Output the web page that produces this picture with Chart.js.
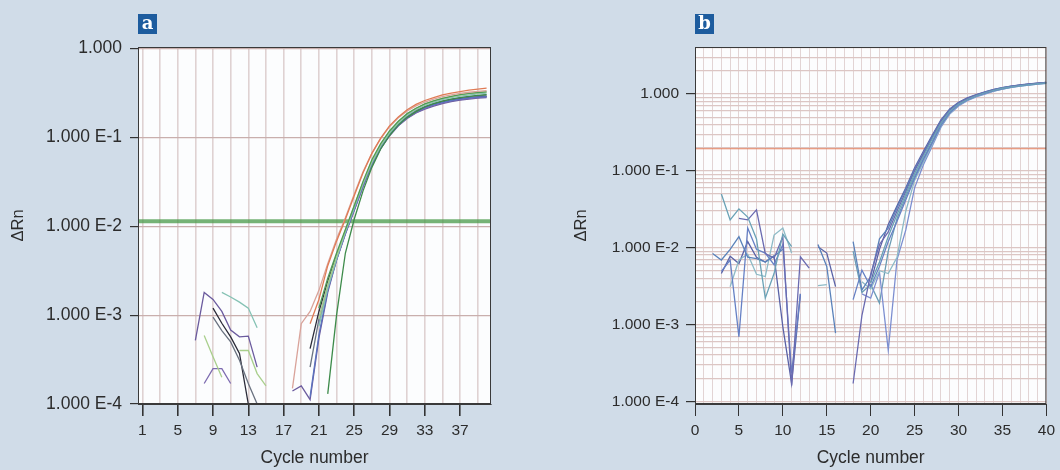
<!DOCTYPE html>
<html>
<head>
<meta charset="utf-8">
<script src="https://cdn.jsdelivr.net/npm/chart.js@4.4.1/dist/chart.umd.min.js"></script>
<style>
  html, body { margin: 0; padding: 0; background: #d0dce8; }
  body { width: 1060px; height: 470px; position: relative; overflow: hidden; }
  .panel { position: absolute; top: 0; width: 530px; height: 470px; }
  .tag {
    position: absolute; top: 14px; width: 19px; height: 20px;
    background: #1d5c9e; color: #fff; text-align: center;
    font: bold 18px "DejaVu Serif", serif; line-height: 18px;
  }
</style>
</head>
<body>
<div class="panel" style="left:0"><canvas id="chart-a" width="530" height="470"></canvas></div>
<div class="panel" style="left:530px"><canvas id="chart-b" width="530" height="470"></canvas></div>
<div class="tag" style="left:138px">a</div>
<div class="tag" style="left:695px">b</div>

<script>
// Two qPCR amplification plots (ΔRn vs cycle, log scale).
const _ = null;

const cycles = [1, 2, 3, 4, 5, 6, 7, 8, 9, 10, 11, 12, 13, 14, 15, 16, 17, 18, 19, 20,
  21, 22, 23, 24, 25, 26, 27, 28, 29, 30, 31, 32, 33, 34, 35, 36, 37, 38, 39, 40];

// ---- panel a ----
const xRangeA = [0.5, 40.5];
const yRangeA = [0.0001, 1.04];
const xTicksA = [1, 5, 9, 13, 17, 21, 25, 29, 33, 37];
const xGridA = [1, 3, 5, 7, 9, 11, 13, 15, 17, 19, 21, 23, 25, 27, 29, 31, 33, 35, 37, 39];
const yTicksA = [1, 0.1, 0.01, 0.001, 0.0001];
const yLabelsA = ["1.000", "1.000 E-1", "1.000 E-2", "1.000 E-3", "1.000 E-4"];
const thresholdA = 0.0114;

const aOrange = [_, _, _, _, _, _, _, _, _, _,
  _, _, _, _, _, _, _, _, _, 0.0008,
  0.0015, 0.0036, 0.0068, 0.012, 0.022, 0.04, 0.066, 0.098, 0.135, 0.17,
  0.205, 0.235, 0.26, 0.28, 0.3, 0.315, 0.328, 0.34, 0.35, 0.358];
const aPink = [_, _, _, _, _, _, _, _, _, _,
  _, _, _, _, _, _, _, 0.00015, 0.0008, 0.0011,
  0.0019, 0.0038, 0.0072, 0.0125, 0.023, 0.041, 0.066, 0.097, 0.132, 0.166,
  0.198, 0.226, 0.25, 0.27, 0.287, 0.3, 0.312, 0.322, 0.33, 0.336];
const aBlack = [_, _, _, _, _, _, _, _, 0.0012, 0.00081,
  0.00057, 0.00037, 0.0001, _, _, _, _, _, _, 0.00042,
  0.0011, 0.0024, 0.0047, 0.0088, 0.016, 0.03, 0.052, 0.078, 0.108, 0.14,
  0.17, 0.196, 0.218, 0.236, 0.25, 0.262, 0.272, 0.28, 0.286, 0.29];
const aPurple = [_, _, _, _, _, _, 0.00052, 0.0018, 0.0015, 0.0011,
  0.00068, 0.00057, 0.00058, 0.00026, _, _, _, 0.00014, 0.00016, 0.000112,
  0.00055, 0.0018, 0.0042, 0.0082, 0.015, 0.028, 0.05, 0.075, 0.104, 0.135,
  0.163, 0.188, 0.208, 0.225, 0.24, 0.252, 0.262, 0.27, 0.276, 0.28];
const aGray = [_, _, _, _, _, _, _, _, 0.00095, 0.00067,
  0.0005, 0.00031, 0.00017, 0.0001, _, _, _, _, _, 0.00026,
  0.0009, 0.0021, 0.0044, 0.0085, 0.0155, 0.029, 0.05, 0.077, 0.108, 0.14,
  0.172, 0.2, 0.222, 0.242, 0.257, 0.27, 0.28, 0.288, 0.295, 0.3];
const aGreen = [_, _, _, _, _, _, _, _, _, _,
  _, _, _, _, _, _, _, _, _, _,
  0.0012, 0.0026, 0.005, 0.0092, 0.017, 0.032, 0.056, 0.085, 0.118, 0.152,
  0.185, 0.213, 0.238, 0.258, 0.275, 0.29, 0.302, 0.312, 0.32, 0.326];
const aGreenLate = [_, _, _, _, _, _, _, _, _, _,
  _, _, _, _, _, _, _, _, _, _,
  _, 0.00013, 0.001, 0.005, 0.012, 0.025, 0.046, 0.074, 0.105, 0.138,
  0.168, 0.195, 0.22, 0.24, 0.256, 0.27, 0.28, 0.29, 0.297, 0.303];
const aLightGreen = [_, _, _, _, _, _, _, 0.00059, 0.00034, 0.0002,
  _, 0.0004, 0.0004, 0.00022, 0.00016, _, _, _, _, _,
  0.0009, 0.0022, 0.0046, 0.009, 0.017, 0.031, 0.054, 0.083, 0.116, 0.15,
  0.183, 0.212, 0.237, 0.257, 0.274, 0.288, 0.3, 0.31, 0.318, 0.325];
const aTeal = [_, _, _, _, _, _, _, _, _, 0.0018,
  0.0016, 0.0014, 0.0012, 0.00072, _, _, _, _, _, _,
  0.00075, 0.002, 0.0043, 0.0086, 0.016, 0.03, 0.052, 0.08, 0.112, 0.145,
  0.178, 0.206, 0.23, 0.25, 0.266, 0.28, 0.291, 0.3, 0.308, 0.314];
const aViolet = [_, _, _, _, _, _, _, 0.00017, 0.00025, 0.00025,
  0.00017, _, _, _, _, _, _, _, _, _,
  0.0008, 0.002, 0.0042, 0.0083, 0.0152, 0.028, 0.049, 0.075, 0.105, 0.136,
  0.165, 0.19, 0.212, 0.23, 0.245, 0.257, 0.267, 0.275, 0.281, 0.285];
const aBlue = [_, _, _, _, _, _, _, _, _, _,
  _, _, _, _, _, _, _, _, _, 0.00012,
  0.0006, 0.0019, 0.0042, 0.0084, 0.0155, 0.029, 0.051, 0.077, 0.107, 0.138,
  0.168, 0.194, 0.216, 0.234, 0.248, 0.26, 0.27, 0.278, 0.284, 0.288];

const seriesA = [aOrange, aPink, aGreen, aLightGreen, aTeal, aGreenLate, aBlue, aViolet, aGray, aPurple, aBlack];
const colorsA = ["#e07b55", "#d9a39a", "#4e9a57", "#a9cf8c", "#85c2b4", "#3d8b4a",
  "#5b73bf", "#7d6bb0", "#6a7280", "#6b5b9e", "#2b2b38"];

// ---- panel b ----
const xRangeB = [0, 40];
const yRangeB = [0.000092, 4.1];
const xTicksB = [0, 5, 10, 15, 20, 25, 30, 35, 40];
const xGridB = [0, 1, 2, 3, 4, 5, 6, 7, 8, 9, 10, 11, 12, 13, 14, 15, 16, 17, 18, 19, 20,
  21, 22, 23, 24, 25, 26, 27, 28, 29, 30, 31, 32, 33, 34, 35, 36, 37, 38, 39, 40];
const yTicksB = [1, 0.1, 0.01, 0.001, 0.0001];
const yLabelsB = ["1.000", "1.000 E-1", "1.000 E-2", "1.000 E-3", "1.000 E-4"];
const minorStepsB = [1, 2, 3, 4, 5, 6, 7, 8, 9];
const thresholdB = 0.194;

const bTeal = [_, _, 0.05, 0.023, 0.032, 0.025, 0.013, 0.0022, 0.0046, 0.015,
  0.0103, _, _, _, _, _, _, _, _, 0.0035,
  0.0065, 0.014, 0.027, 0.05, 0.092, 0.155, 0.26, 0.42, 0.6, 0.74,
  0.85, 0.95, 1.04, 1.12, 1.19, 1.24, 1.29, 1.33, 1.37, 1.4];
const bPurple = [_, _, _, _, 0.024, 0.023, 0.031, 0.0084, 0.0073, 0.0139,
  0.00016, 0.0076, 0.0054, _, _, _, _, 0.00017, 0.0013, 0.0045,
  0.011, 0.016, 0.03, 0.054, 0.1, 0.165, 0.27, 0.44, 0.62, 0.76,
  0.87, 0.97, 1.05, 1.13, 1.2, 1.26, 1.31, 1.35, 1.39, 1.42];
const bSteel = [_, 0.0084, 0.0069, 0.0095, 0.0139, 0.0075, 0.0072, 0.0065, 0.0078, 0.0095,
  _, _, _, 0.011, 0.0057, 0.00077, _, 0.012, 0.0028, 0.0042,
  0.013, 0.018, 0.033, 0.058, 0.105, 0.17, 0.28, 0.45, 0.63, 0.77,
  0.88, 0.97, 1.06, 1.14, 1.21, 1.27, 1.31, 1.35, 1.38, 1.41];
const bBlue = [_, _, 0.0049, 0.0069, 0.00069, 0.018, 0.0095, 0.0085, 0.006, 0.011,
  0.00023, 0.0025, _, _, _, _, _, 0.0021, 0.0051, 0.0031,
  0.0057, 0.012, 0.022, 0.042, 0.08, 0.14, 0.23, 0.39, 0.57, 0.72,
  0.84, 0.94, 1.02, 1.1, 1.17, 1.23, 1.28, 1.32, 1.36, 1.39];
const bLight = [_, _, _, 0.0031, 0.0069, 0.0082, 0.0045, 0.0042, 0.0146, 0.018,
  0.0085, _, _, 0.0032, 0.0033, _, _, _, 0.0036, 0.0029,
  0.005, 0.0046, 0.0075, 0.03, 0.075, 0.13, 0.22, 0.38, 0.56, 0.71,
  0.83, 0.93, 1.01, 1.09, 1.16, 1.22, 1.27, 1.31, 1.35, 1.38];
const bSlate = [_, _, 0.0046, 0.0077, 0.0062, 0.012, 0.0075, 0.0065, 0.0078, 0.00093,
  0.00017, 0.0025, _, 0.0103, 0.0085, 0.0031, _, _, _, 0.0035,
  0.0095, 0.02, 0.035, 0.06, 0.11, 0.18, 0.29, 0.46, 0.64, 0.78,
  0.89, 0.98, 1.07, 1.15, 1.21, 1.27, 1.32, 1.36, 1.39, 1.42];
const bPeriwinkle = [_, _, _, _, _, _, _, _, _, _,
  _, _, _, _, _, _, _, _, 0.0025, 0.0022,
  0.0048, 0.00046, 0.007, 0.017, 0.06, 0.12, 0.21, 0.37, 0.55, 0.7,
  0.82, 0.92, 1.0, 1.09, 1.16, 1.22, 1.27, 1.31, 1.35, 1.38];
const bSea = [_, _, _, _, _, _, _, _, _, _,
  _, _, _, _, _, _, _, 0.009, 0.0026, 0.0033,
  0.0019, 0.009, 0.024, 0.046, 0.085, 0.145, 0.24, 0.41, 0.59, 0.74,
  0.86, 0.95, 1.03, 1.11, 1.18, 1.24, 1.29, 1.33, 1.37, 1.4];

const seriesB = [bTeal, bPurple, bSteel, bBlue, bLight, bSlate, bPeriwinkle, bSea];
const colorsB = ["#6aa2b6", "#6a6ab0", "#5a82ba", "#6680c4", "#8dbac6", "#5a62a6", "#7c8ed0", "#6c9cb4"];

const FONT = '"Liberation Sans", Arial, sans-serif';
const INK = "#2c2c2c";

const plotFrame = {
  id: "plotFrame",
  beforeDraw(chart) {
    const { ctx, chartArea: a } = chart;
    ctx.save();
    ctx.fillStyle = "#fcfdfe";
    ctx.fillRect(a.left, a.top, a.right - a.left, a.bottom - a.top);
    ctx.restore();
  },
  afterDraw(chart) {
    const { ctx, chartArea: a } = chart;
    ctx.save();
    ctx.strokeStyle = "#3a3a3a";
    ctx.lineWidth = 1;
    ctx.strokeRect(a.left + 0.5, a.top + 0.5, a.right - a.left - 1, a.bottom - a.top - 1);
    ctx.restore();
  },
};

function curveDatasets(series, colors, width) {
  return series.map((vals, i) => ({
    data: vals.map((v, j) => ({ x: cycles[j], y: v })),
    borderColor: colors[i],
    borderWidth: width,
    pointRadius: 0,
    tension: 0,
    spanGaps: false,
  }));
}

function thresholdDataset(xRange, value, color, width) {
  return {
    data: [{ x: xRange[0], y: value }, { x: xRange[1], y: value }],
    borderColor: color,
    borderWidth: width,
    pointRadius: 0,
  };
}

function buildChart(id, o) {
  const labelFor = (v) => {
    const i = o.yTicks.indexOf(v);
    return i >= 0 ? o.yLabels[i] : "";
  };
  return new Chart(document.getElementById(id), {
    type: "line",
    data: { datasets: o.datasets },
    plugins: [plotFrame],
    options: {
      responsive: false,
      animation: false,
      devicePixelRatio: 1,
      layout: { padding: o.padding },
      plugins: { legend: { display: false }, tooltip: { enabled: false } },
      scales: {
        x: {
          type: "linear",
          min: o.xRange[0],
          max: o.xRange[1],
          afterBuildTicks: (s) => { s.ticks = o.xGrid.map((v) => ({ value: v })); },
          afterFit: (s) => { s.height = o.xHeight; },
          ticks: {
            autoSkip: false, maxRotation: 0, padding: 5, color: INK,
            font: { family: FONT, size: 15.5 },
            callback: (v) => (o.xTicks.includes(v) ? String(v) : ""),
          },
          grid: {
            color: o.xGridColor, lineWidth: o.xGridWidth, tickLength: 12,
            tickColor: (c) => (c.tick && o.xTicks.includes(c.tick.value) ? "#333" : "rgba(0,0,0,0)"),
          },
          border: { color: "#3a3a3a", width: 1 },
          title: {
            display: true, text: "Cycle number", color: INK,
            font: { family: FONT, size: 17.5 }, padding: { top: 0, bottom: 1 },
          },
        },
        y: {
          type: "logarithmic",
          min: o.yRange[0],
          max: o.yRange[1],
          afterBuildTicks: (s) => { s.ticks = o.yGrid.map((v) => ({ value: v })); },
          afterFit: (s) => { s.width = o.yWidth; },
          ticks: {
            autoSkip: false, padding: o.yPad, color: INK,
            font: { family: FONT, size: o.yFont },
            callback: (v) => labelFor(v),
          },
          grid: {
            color: o.yGridColor, lineWidth: 1.2, tickLength: o.yTickLen,
            tickColor: (c) => (c.tick && o.yTicks.includes(c.tick.value) ? "#333" : "rgba(0,0,0,0)"),
          },
          border: { color: "#3a3a3a", width: 1 },
          title: {
            display: true, text: "ΔRn", color: INK,
            font: { family: FONT, size: 16.5 }, padding: { top: o.yTitlePad, bottom: 0 },
          },
        },
      },
    },
  });
}

// minor log grid for panel b: 1..9 × each decade, kept inside the axis range
const yGridB = [];
yTicksB.forEach((d) => minorStepsB.forEach((k) => {
  const v = +(d * k).toPrecision(3);
  if (v >= yRangeB[0] && v <= yRangeB[1]) yGridB.push(v);
}));

buildChart("chart-a", {
  datasets: [...curveDatasets(seriesA, colorsA, 1.3), thresholdDataset(xRangeA, thresholdA, "rgba(80,158,80,0.78)", 4)],
  padding: { top: 47, right: 39, bottom: 0, left: 0 },
  xRange: xRangeA, yRange: yRangeA,
  xTicks: xTicksA, xGrid: xGridA,
  yTicks: yTicksA, yLabels: yLabelsA, yGrid: yTicksA,
  xHeight: 66, yWidth: 138, yPad: 8, yTickLen: 8, yFont: 17.5, yTitlePad: 9,
  xGridColor: "#dfd2d2", xGridWidth: 1.6,
  yGridColor: "#c9afad",
});

buildChart("chart-b", {
  datasets: [...curveDatasets(seriesB, colorsB, 1.3), thresholdDataset(xRangeB, thresholdB, "#e3805f", 1.2)],
  padding: { top: 47, right: 12, bottom: 0, left: 0 },
  xRange: xRangeB, yRange: yRangeB,
  xTicks: xTicksB, xGrid: xGridB,
  yTicks: yTicksB, yLabels: yLabelsB, yGrid: yGridB,
  xHeight: 66, yWidth: 165, yPad: 7, yTickLen: 9, yFont: 15.5, yTitlePad: 42,
  xGridColor: "#e2d4d4", xGridWidth: 1,
  yGridColor: "#dcc6c4",
});
</script>
</body>
</html>
